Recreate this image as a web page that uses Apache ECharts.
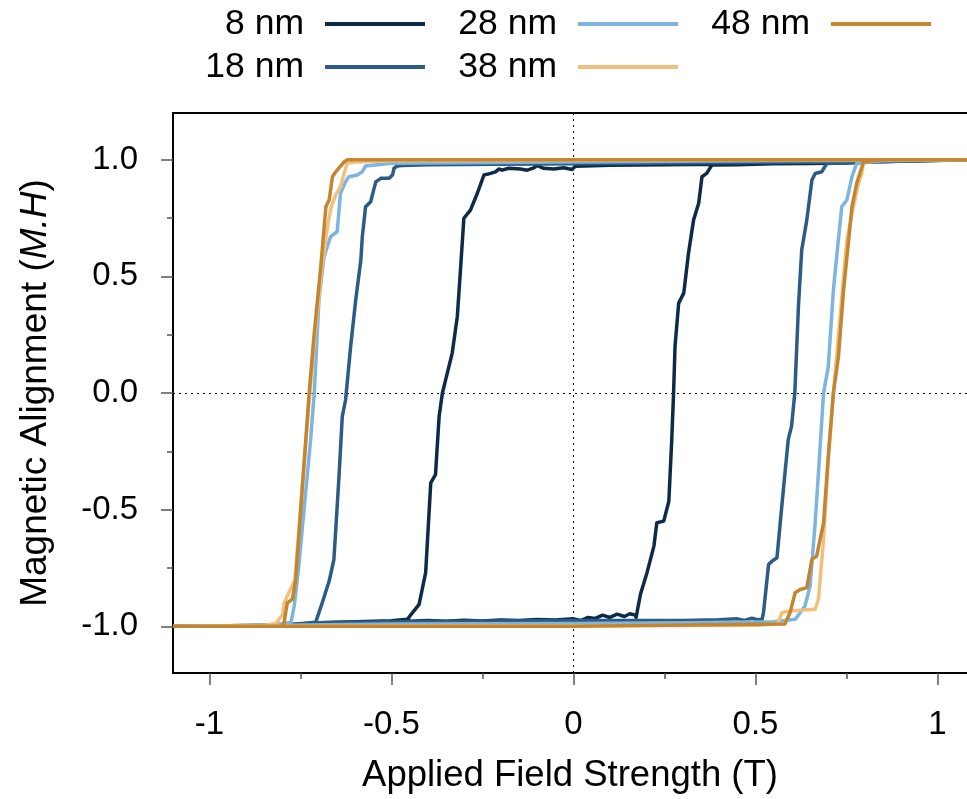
<!DOCTYPE html>
<html>
<head>
<meta charset="utf-8">
<script src="https://cdn.jsdelivr.net/npm/echarts@6/dist/echarts.min.js"></script>
<style>
html,body{margin:0;padding:0;background:#fff;overflow:hidden;}
#chart{width:967px;height:799px;}
</style>
</head>
<body>
<div id="chart"></div>
<script>
// ---- data (field in T, alignment M.H) ----
const seriesNames = ['8 nm', '18 nm', '28 nm', '38 nm', '48 nm'];
const seriesColors = ['#0d2b48', '#2b5b87', '#7db5e0', '#f2c07c', '#c3852f'];

const loop8 = [
  [-1.1,-1.0],[-0.8,-0.995],[-0.7,-0.985],[-0.6,-0.982],[-0.5,-0.98],[-0.45,-0.978],[-0.4,-0.975],[-0.35,-0.978],
  [-0.3,-0.974],[-0.25,-0.977],[-0.2,-0.973],[-0.15,-0.975],[-0.1,-0.971],[-0.05,-0.973],[0,-0.968],[0.02,-0.975],
  [0.04,-0.962],[0.06,-0.966],[0.08,-0.952],[0.1,-0.962],[0.12,-0.948],[0.14,-0.958],[0.155,-0.946],[0.17,-0.952],
  [0.172,-0.962],[0.184,-0.863],[0.202,-0.77],[0.221,-0.656],[0.229,-0.556],[0.248,-0.549],[0.262,-0.464],[0.27,-0.2],
  [0.275,0],[0.279,0.2],[0.289,0.385],[0.303,0.428],[0.316,0.599],[0.33,0.742],[0.344,0.813],[0.353,0.927],
  [0.366,0.941],[0.38,0.977],[0.45,0.978],[0.55,0.982],[0.65,0.984],[0.75,0.986],[0.85,0.992],[0.95,1.0],[1.1,1.0],
  [0.8,0.99],[0.6,0.984],[0.4,0.98],[0.25,0.978],[0.1,0.976],[0.03,0.973],[0.005,0.972],
  [-0.004,0.958],[-0.027,0.965],[-0.054,0.96],[-0.082,0.963],[-0.1,0.975],[-0.109,0.965],[-0.127,0.955],[-0.146,0.96],
  [-0.178,0.963],[-0.196,0.955],[-0.205,0.96],[-0.214,0.948],[-0.23,0.94],[-0.246,0.934],[-0.264,0.856],[-0.283,0.784],
  [-0.301,0.749],[-0.311,0.513],[-0.319,0.328],[-0.333,0.171],[-0.351,0.057],[-0.36,0],[-0.369,-0.1],[-0.379,-0.35],
  [-0.392,-0.385],[-0.406,-0.77],[-0.424,-0.906],[-0.442,-0.941],[-0.456,-0.97],[-0.5,-0.976],[-0.6,-0.98],
  [-0.7,-0.985],[-0.8,-0.995],[-1.1,-1.0]
];

const loop18 = [
  [-1.1,-1.0],[-0.8,-0.995],[-0.7,-0.985],[-0.5,-0.98],[-0.3,-0.978],[-0.1,-0.976],[0.1,-0.975],[0.3,-0.975],
  [0.4,-0.972],[0.45,-0.968],[0.47,-0.975],[0.49,-0.965],[0.505,-0.972],[0.518,-0.97],[0.522,-0.941],[0.536,-0.735],
  [0.545,-0.721],[0.559,-0.706],[0.568,-0.556],[0.581,-0.342],[0.59,-0.2],[0.599,-0.143],[0.608,0],[0.618,0.371],
  [0.627,0.613],[0.641,0.742],[0.655,0.913],[0.664,0.941],[0.682,0.948],[0.696,0.984],[0.8,0.99],[0.9,1.0],[1.1,1.0],
  [0.8,0.99],[0.5,0.988],[0.2,0.985],[0,0.983],[-0.2,0.98],[-0.4,0.978],[-0.47,0.975],[-0.484,0.973],[-0.493,0.963],
  [-0.497,0.934],[-0.507,0.92],[-0.529,0.92],[-0.543,0.905],[-0.557,0.82],[-0.571,0.798],[-0.58,0.67],[-0.584,0.57],
  [-0.598,0.4],[-0.612,0.2],[-0.626,-0.03],[-0.635,-0.1],[-0.644,-0.357],[-0.658,-0.713],[-0.671,-0.806],
  [-0.69,-0.899],[-0.708,-0.982],[-0.8,-0.995],[-1.1,-1.0]
];

const loop28 = [
  [-1.1,-1.0],[-0.8,-0.995],[-0.5,-0.99],[0,-0.988],[0.3,-0.985],[0.55,-0.98],[0.609,-0.97],[0.623,-0.941],
  [0.636,-0.913],[0.65,-0.827],[0.664,-0.556],[0.673,-0.342],[0.687,0],[0.7,0.114],[0.714,0.442],[0.723,0.585],
  [0.737,0.799],[0.751,0.827],[0.765,0.927],[0.778,0.984],[0.85,0.995],[1.1,1.0],
  [0.5,0.995],[0,0.99],[-0.5,0.985],[-0.571,0.973],[-0.58,0.948],[-0.594,0.934],[-0.617,0.927],[-0.626,0.905],
  [-0.64,0.856],[-0.649,0.692],[-0.667,0.67],[-0.685,0.585],[-0.699,0.4],[-0.712,0],[-0.722,-0.2],[-0.74,-0.5],
  [-0.755,-0.75],[-0.767,-0.913],[-0.776,-0.984],[-0.85,-0.997],[-1.1,-1.0]
];

const loop38 = [
  [-1.1,-1.0],[-0.5,-0.998],[0,-0.997],[0.5,-0.995],[0.56,-0.99],[0.573,-0.941],[0.595,-0.934],[0.664,-0.927],
  [0.673,-0.884],[0.687,-0.628],[0.7,-0.285],[0.714,0],[0.723,0.157],[0.751,0.656],[0.769,0.799],[0.783,0.899],
  [0.792,0.941],[0.797,0.991],[0.85,1.0],[1.1,1.0],
  [0.5,1.0],[0,0.998],[-0.5,0.995],[-0.6,0.99],[-0.622,0.984],[-0.64,0.884],[-0.653,0.849],[-0.665,0.8],
  [-0.675,0.72],[-0.69,0.55],[-0.71,0.25],[-0.724,0],[-0.74,-0.3],[-0.75,-0.5],[-0.765,-0.8],[-0.78,-0.85],
  [-0.795,-0.9],[-0.799,-0.949],[-0.817,-0.987],[-0.85,-0.997],[-1.1,-1.0]
];

const loop48 = [
  [-1.1,-1.0],[0,-1.0],[0.581,-0.99],[0.595,-0.941],[0.609,-0.856],[0.623,-0.842],[0.641,-0.834],[0.655,-0.713],
  [0.668,-0.699],[0.687,-0.556],[0.7,-0.271],[0.714,0],[0.728,0.157],[0.742,0.442],[0.756,0.656],[0.765,0.799],
  [0.778,0.899],[0.797,0.991],[0.85,1.0],[1.1,1.0],
  [-0.62,1.0],[-0.63,0.991],[-0.653,0.948],[-0.662,0.927],[-0.671,0.827],[-0.68,0.799],[-0.694,0.542],
  [-0.712,0.257],[-0.726,0],[-0.749,-0.499],[-0.763,-0.799],[-0.772,-0.884],[-0.786,-0.899],[-0.795,-0.984],
  [-0.8,-1.0],[-1.1,-1.0]
];

const loops = [loop8, loop18, loop28, loop38, loop48];

const xRange = [-1.1, 1.081];   // right edge of the plot is cut by the picture
const yRange = [-1.2, 1.2];
const xMajorTicks = [-1, -0.5, 0, 0.5, 1];
const xMinorTicks = [-0.75, -0.25, 0.25, 0.75];
const yMajorTicks = [-1, -0.5, 0, 0.5, 1];
const yMinorTicks = [-0.75, -0.25, 0.25, 0.75];

// ---- chart ----
const FONT = "'Liberation Sans', Arial, sans-serif";
const chart = echarts.init(document.getElementById('chart'), null, {renderer: 'canvas'});

const legendPos = [
  {right: 542, top: 5}, {right: 542, top: 48},
  {right: 289, top: 5}, {right: 289, top: 48},
  {right: 36, top: 5}
];

const tickStyle = {color: '#555', width: 1.5};

const option = {
  animation: false,
  backgroundColor: '#fff',
  textStyle: {fontFamily: FONT},
  grid: {left: 173, top: 113, right: 0, bottom: 126, show: false},
  legend: seriesNames.map((n, i) => ({
    data: [n],
    right: legendPos[i].right, top: legendPos[i].top,
    padding: 0,
    align: 'right',
    icon: 'rect',
    itemWidth: 100, itemHeight: 4,
    selectedMode: false,
    textStyle: {fontSize: 35.5, color: '#000', fontFamily: FONT, padding: [0, 16, 0, 0], lineHeight: 38}
  })),
  xAxis: [{
    type: 'value', min: xRange[0], max: xRange[1], position: 'bottom',
    axisLine: {show: true, onZero: false, lineStyle: {color: '#000', width: 2}},
    axisTick: {show: true, customValues: xMajorTicks, length: 12, lineStyle: tickStyle},
    axisLabel: {customValues: xMajorTicks, fontSize: 33, color: '#000', margin: 35, fontFamily: FONT},
    splitLine: {show: false},
    name: 'Applied Field Strength (T)', nameLocation: 'middle', nameGap: 84,
    nameTextStyle: {fontSize: 36.5, color: '#000', fontFamily: FONT}
  }, {
    type: 'value', min: xRange[0], max: xRange[1], position: 'bottom',
    axisLine: {show: false, onZero: false},
    axisTick: {show: true, customValues: xMinorTicks, length: 6, lineStyle: tickStyle},
    axisLabel: {show: false},
    splitLine: {show: false}
  }, {
    type: 'value', min: xRange[0], max: xRange[1], position: 'top',
    axisLine: {show: true, onZero: false, lineStyle: {color: '#000', width: 2}},
    axisTick: {show: false},
    axisLabel: {show: false},
    splitLine: {show: false}
  }],
  yAxis: [{
    type: 'value', min: yRange[0], max: yRange[1], position: 'left',
    axisLine: {show: true, onZero: false, lineStyle: {color: '#000', width: 2}},
    axisTick: {show: true, customValues: yMajorTicks, length: 12, lineStyle: tickStyle},
    axisLabel: {customValues: yMajorTicks, fontSize: 33, color: '#000', margin: 35, fontFamily: FONT,
      formatter: v => v.toFixed(1)},
    splitLine: {show: false},
    name: 'Magnetic Alignment ({i|M.H})', nameLocation: 'middle', nameGap: 119,
    nameTextStyle: {fontSize: 37, color: '#000', fontFamily: FONT,
      rich: {i: {fontStyle: 'italic', fontSize: 37, color: '#000', fontFamily: FONT}}}
  }, {
    type: 'value', min: yRange[0], max: yRange[1], position: 'left',
    axisLine: {show: false, onZero: false},
    axisTick: {show: true, customValues: yMinorTicks, length: 6, lineStyle: tickStyle},
    axisLabel: {show: false},
    splitLine: {show: false}
  }],
  series: seriesNames.map((n, i) => {
    const s = {
      name: n, type: 'line', data: loops[i],
      xAxisIndex: 0, yAxisIndex: 0,
      showSymbol: false, symbol: 'none', smooth: false,
      color: seriesColors[i],
      lineStyle: {color: seriesColors[i], width: 3.5, join: 'round'},
      z: 3 + i
    };
    if (i === 0) {
      s.markLine = {
        silent: true, symbol: 'none', label: {show: false},
        lineStyle: {color: '#000', type: [2, 4], width: 1},
        data: [{xAxis: 0}, {yAxis: 0}],
        z: 1
      };
    }
    return s;
  })
};
chart.setOption(option);
</script>
</body>
</html>
